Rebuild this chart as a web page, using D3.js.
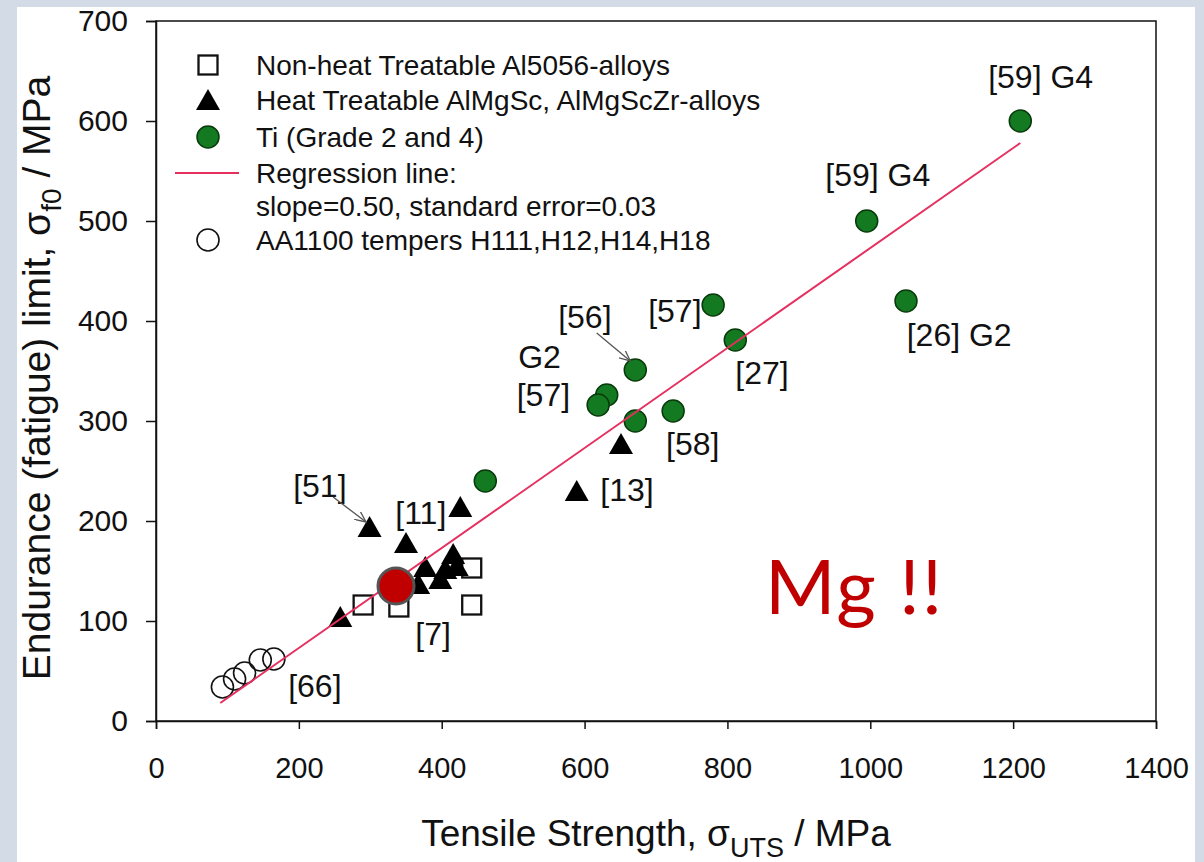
<!DOCTYPE html>
<meta charset="utf-8">
<style>
body { margin: 0; background: #d3dce6; }
svg { display: block; }
text { font-family: "Liberation Sans", Arial, sans-serif; fill: #111; }
.axis text { font-size: 29px; fill: #111; }
.axis path, .axis line { stroke: #111; stroke-width: 1.5; }
.y.axis text { font-size: 30px; }
.note { font-size: 32px; }
.leg { font-size: 28px; }
</style>
<svg width="1204" height="862"></svg>
<script src="https://cdn.jsdelivr.net/npm/d3@7"></script>
<script>

// values (MPa)
var squares = [[290, 116], [340, 114], [442, 153], [442, 116]];
var triangles = [[258, 103], [299, 193], [350, 177], [426, 213], [416, 166], [377, 153],
                 [405, 151], [421, 154], [398, 141], [367, 136], [651, 276], [589, 229]];
var titanium = [[1210, 600], [995, 500], [1050, 420], [780, 416], [811, 381], [671, 351],
                [631, 326], [619, 316], [671, 300], [724, 310], [461, 240]];
var aa1100 = [[93, 34], [110, 42], [124, 48], [146, 61], [165, 62]];
var magnesium = [336, 135];
var regression = { slope: 0.5, intercept: -27, from: 90, to: 1210 };

var xTicks = [0, 200, 400, 600, 800, 1000, 1200, 1400];
var yTicks = [0, 100, 200, 300, 400, 500, 600, 700];

var legendItems = [
  { sym: "square", text: "Non-heat Treatable Al5056-alloys" },
  { sym: "triangle", text: "Heat Treatable AlMgSc, AlMgScZr-alloys" },
  { sym: "green", text: "Ti (Grade 2 and 4)" },
  { sym: "line", text: "Regression line:" },
  { sym: "none", text: "slope=0.50, standard error=0.03" },
  { sym: "open", text: "AA1100 tempers H111,H12,H14,H18" }
];

// reference labels, anchored in data units
var labels = [
  ["[51]", 192, 224], ["[11]", 335, 197], ["[7]", 363, 76], ["[66]", 185, 24],
  ["[13]", 622, 220], ["[58]", 714, 266], ["[27]", 811, 337], ["[56]", 563, 393],
  ["G2", 507, 353], ["[57]", 505, 315], ["[57]", 689, 399], ["[59] G4", 937, 535],
  ["[59] G4", 1165, 633], ["[26] G2", 1051, 375]
];
var arrows = [[[248, 224], [294, 199]], [[617, 388], [664, 360]]];

var svg = d3.select("svg");

svg.append("rect")
    .attr("x", 17).attr("y", 7)
    .attr("width", 1178).attr("height", 862)
    .attr("fill", "#fff");

var x = d3.scaleLinear().domain([0, 1400]).range([156, 1156]);
var y = d3.scaleLinear().domain([0, 700]).range([721, 21]);

var defs = svg.append("defs");
defs.append("marker")
    .attr("id", "head")
    .attr("viewBox", "0 0 12 10")
    .attr("refX", 11).attr("refY", 5)
    .attr("markerWidth", 12).attr("markerHeight", 10)
    .attr("markerUnits", "userSpaceOnUse")
    .attr("orient", "auto")
  .append("path")
    .attr("d", "M0,0L11,5L0,10")
    .attr("fill", "none")
    .attr("stroke", "#555")
    .attr("stroke-width", 1.3);

// frame
svg.append("rect")
    .attr("x", x(0)).attr("y", y(700))
    .attr("width", x(1400) - x(0)).attr("height", y(0) - y(700))
    .attr("fill", "none")
    .attr("stroke", "#111")
    .attr("stroke-width", 1.5);

svg.append("g")
    .attr("class", "x axis")
    .attr("transform", "translate(0," + y(0) + ")")
    .call(d3.axisBottom(x).tickValues(xTicks).tickSize(8).tickPadding(28).tickFormat(d3.format("d")));

svg.append("g")
    .attr("class", "y axis")
    .attr("transform", "translate(" + x(0) + ",0)")
    .call(d3.axisLeft(y).tickValues(yTicks).tickSize(10).tickPadding(18).tickFormat(d3.format("d")));

// axis titles
var xt = svg.append("text")
    .attr("x", 656).attr("y", 846)
    .attr("text-anchor", "middle")
    .style("font-size", "37px");
xt.append("tspan").text("Tensile Strength, σ");
xt.append("tspan").attr("dy", 11).style("font-size", "27px").text("UTS");
xt.append("tspan").attr("dy", -11).text(" / MPa");

var yt = svg.append("text")
    .attr("transform", "translate(50,378) rotate(-90)")
    .attr("text-anchor", "middle")
    .style("font-size", "39px");
yt.append("tspan").text("Endurance (fatigue) limit, σ");
yt.append("tspan").attr("dy", 11).style("font-size", "28px").text("f0");
yt.append("tspan").attr("dy", -11).text(" / MPa");

// symbol drawers
function drawSquare(g, px, py) {
  g.append("rect")
      .attr("x", px - 9.5).attr("y", py - 9.5)
      .attr("width", 19).attr("height", 19)
      .attr("fill", "#fff")
      .attr("stroke", "#111")
      .attr("stroke-width", 2.3);
}
function drawTriangle(g, px, py) {
  g.append("path")
      .attr("d", "M" + px + "," + (py - 12) + "L" + (px + 12) + "," + (py + 9) + "L" + (px - 12) + "," + (py + 9) + "Z")
      .attr("fill", "#000");
}
function drawGreen(g, px, py) {
  g.append("circle")
      .attr("cx", px).attr("cy", py).attr("r", 11)
      .attr("fill", "#137a22")
      .attr("stroke", "#0a3a0c")
      .attr("stroke-width", 1.5);
}
function drawOpen(g, px, py) {
  g.append("circle")
      .attr("cx", px).attr("cy", py).attr("r", 11)
      .attr("fill", "none")
      .attr("stroke", "#111")
      .attr("stroke-width", 1.6);
}

var marks = svg.append("g");
squares.forEach(function(d) { drawSquare(marks, x(d[0]), y(d[1])); });
aa1100.forEach(function(d) { drawOpen(marks, x(d[0]), y(d[1])); });
titanium.forEach(function(d) { drawGreen(marks, x(d[0]), y(d[1])); });
triangles.forEach(function(d) { drawTriangle(marks, x(d[0]), y(d[1])); });

// regression line
svg.append("line")
    .attr("x1", x(regression.from))
    .attr("y1", y(regression.slope * regression.from + regression.intercept))
    .attr("x2", x(regression.to))
    .attr("y2", y(regression.slope * regression.to + regression.intercept))
    .attr("stroke", "#e5305f")
    .attr("stroke-width", 2);

// Mg point
svg.append("circle")
    .attr("cx", x(magnesium[0])).attr("cy", y(magnesium[1]))
    .attr("r", 18)
    .attr("fill", "#c00000")
    .attr("stroke", "#555")
    .attr("stroke-width", 3);

// reference labels and arrows
svg.selectAll(".note")
  .data(labels)
  .enter().append("text")
    .attr("class", "note")
    .attr("x", function(d) { return x(d[1]); })
    .attr("y", function(d) { return y(d[2]); })
    .text(function(d) { return d[0]; });

svg.selectAll(".arrow")
  .data(arrows)
  .enter().append("line")
    .attr("class", "arrow")
    .attr("x1", function(d) { return x(d[0][0]); })
    .attr("y1", function(d) { return y(d[0][1]); })
    .attr("x2", function(d) { return x(d[1][0]); })
    .attr("y2", function(d) { return y(d[1][1]); })
    .attr("stroke", "#555")
    .attr("stroke-width", 1.3)
    .attr("marker-end", "url(#head)");

// legend
var legend = svg.append("g");
var rowY = [65, 100, 137, 173, 206, 240];
legendItems.forEach(function(d, i) {
  var cy = rowY[i];
  if (d.sym == "square") drawSquare(legend, 208, cy);
  if (d.sym == "triangle") drawTriangle(legend, 208, cy + 1);
  if (d.sym == "green") drawGreen(legend, 208, cy);
  if (d.sym == "open") drawOpen(legend, 208, cy);
  if (d.sym == "line") {
    legend.append("line")
        .attr("x1", 175).attr("x2", 239)
        .attr("y1", cy).attr("y2", cy)
        .attr("stroke", "#e5305f")
        .attr("stroke-width", 2);
  }
  legend.append("text")
      .attr("class", "leg")
      .attr("x", 256)
      .attr("y", cy + 10)
      .text(d.text);
});

// big remark
svg.append("text")
    .attr("x", 765).attr("y", 614)
    .style("font-family", "Lato, 'Open Sans', sans-serif")
    .style("font-size", "76px")
    .style("letter-spacing", "2px")
    .style("fill", "#c00000")
    .text("Mg !!");

</script>
